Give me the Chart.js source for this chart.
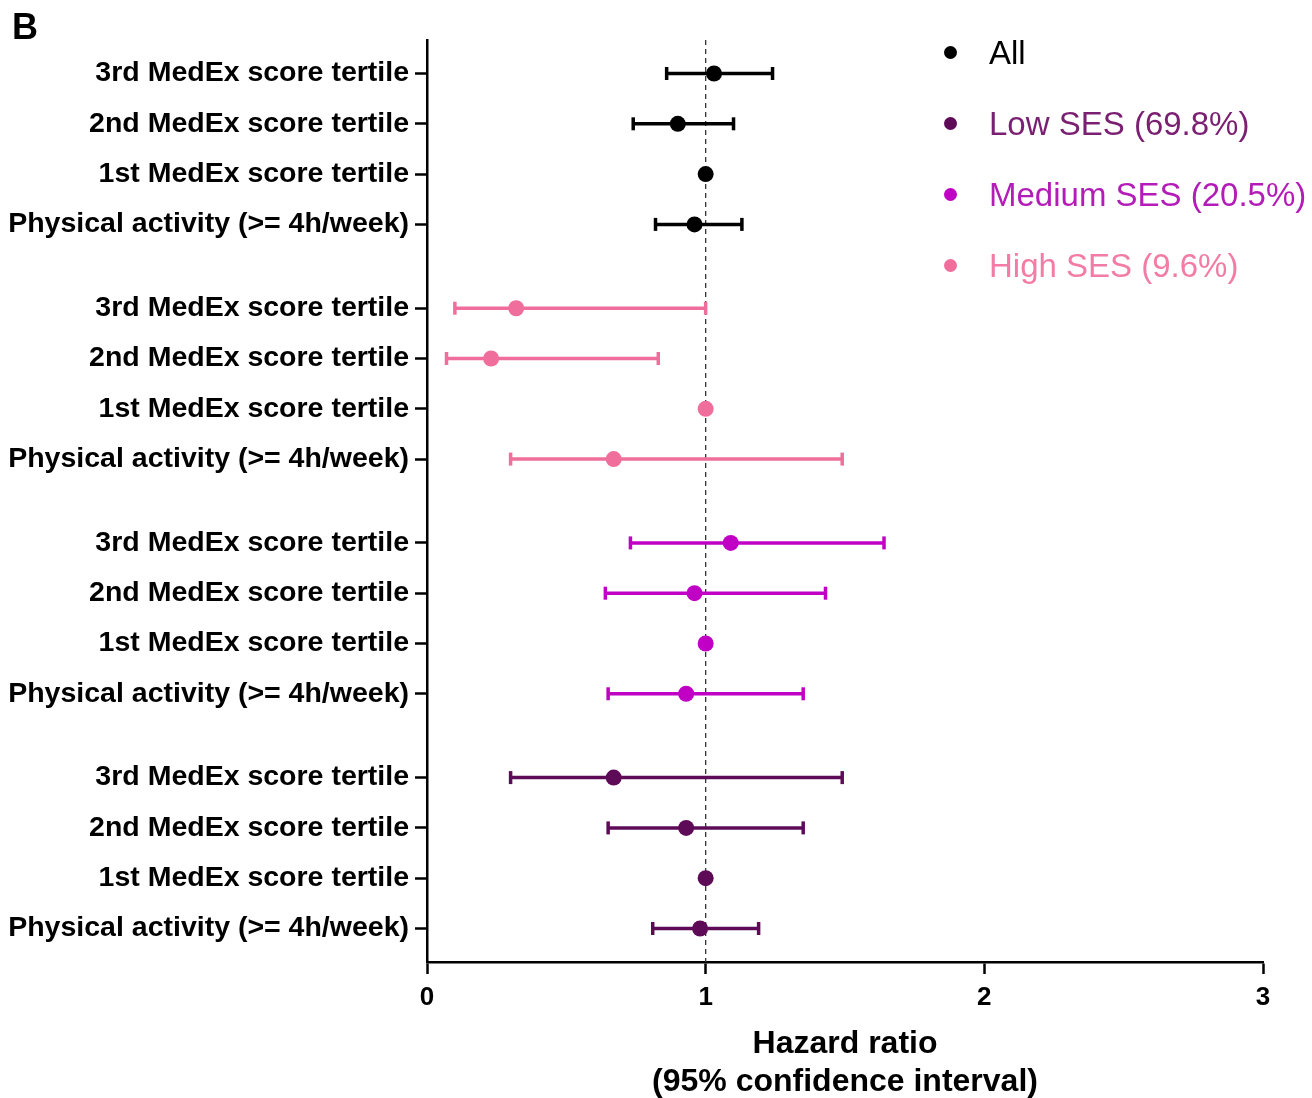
<!DOCTYPE html>
<html lang="en">

<head>
    <meta charset="UTF-8">
    <title>Hazard ratio by SES</title>
    <script src="https://cdn.jsdelivr.net/npm/chart.js"></script>
    <style>
        body { margin: 0; background: #fff; }
        #wrap { position: relative; width: 1312px; height: 1098px; }
        #panel { position: absolute; left: 12px; top: 6px; font: bold 36px "Liberation Sans", Arial, sans-serif; }
        #legend { position: absolute; left: 944px; top: 17px; font: 33px "Liberation Sans", Arial, sans-serif; }
        .item { display: flex; align-items: center; height: 71px; }
        .dot { width: 13px; height: 13px; border-radius: 50%; margin-right: 32px; }
    </style>
</head>

<body>
    <div id="wrap">
        <canvas id="forest" width="1312" height="1098"></canvas>
        <div id="panel">B</div>
        <div id="legend"></div>
    </div>

    <script>
        // rows inside each group, top to bottom
        const rowLabels = ['3rd MedEx score tertile', '2nd MedEx score tertile', '1st MedEx score tertile', 'Physical activity (>= 4h/week)'];

        // groups, top to bottom on the plot
        const groupNames = ['All', 'High SES (9.6%)', 'Medium SES (20.5%)', 'Low SES (69.8%)'];
        const groupColors = ['#000000', '#f06e9b', '#c000c4', '#5e0b57'];
        const groupTextColors = ['#000000', '#f27ca5', '#b41cb8', '#7a1f72'];

        // hazard ratios and 95% CI per group (1st tertile = reference)
        const hrAll = [1.03, 0.90, 1.00, 0.96];
        const loAll = [0.86, 0.74, null, 0.82];
        const hiAll = [1.24, 1.10, null, 1.13];

        const hrHigh = [0.32, 0.23, 1.00, 0.67];
        const loHigh = [0.10, 0.07, null, 0.30];
        const hiHigh = [1.00, 0.83, null, 1.49];

        const hrMed = [1.09, 0.96, 1.00, 0.93];
        const loMed = [0.73, 0.64, null, 0.65];
        const hiMed = [1.64, 1.43, null, 1.35];

        const hrLow = [0.67, 0.93, 1.00, 0.98];
        const loLow = [0.30, 0.65, null, 0.81];
        const hiLow = [1.49, 1.35, null, 1.19];

        const xTicks = [0, 1, 2, 3];

        // legend order differs from plot order
        const legendOrder = [0, 3, 2, 1];

        const hrs = [hrAll, hrHigh, hrMed, hrLow];
        const los = [loAll, loHigh, loMed, loLow];
        const his = [hiAll, hiHigh, hiMed, hiLow];

        const groupStep = 14 / 3; // 4 rows + gap
        const yMin = -2 / 3;
        const yMax = 3 * groupStep + 3 + 2 / 3;
        const rowPos = (g, r) => g * groupStep + r;

        const tickPositions = [];
        groupNames.forEach((_, g) => rowLabels.forEach((_, r) => tickPositions.push(rowPos(g, r))));

        const datasets = [];
        groupNames.forEach((name, g) => {
            const color = groupColors[g];
            datasets.push({
                label: name,
                data: hrs[g].map((v, r) => ({ x: v, y: rowPos(g, r) })),
                pointRadius: 8,
                pointBackgroundColor: color,
                pointBorderWidth: 0,
                showLine: false,
                order: 0,
                clip: false
            });
            hrs[g].forEach((v, r) => {
                if (los[g][r] == null) return;
                datasets.push({
                    label: name + ' CI',
                    data: [{ x: los[g][r], y: rowPos(g, r) }, { x: his[g][r], y: rowPos(g, r) }],
                    showLine: true,
                    borderColor: color,
                    borderWidth: 3.5,
                    pointStyle: 'line',
                    pointRadius: 6.5,
                    pointRotation: 90,
                    pointBorderColor: color,
                    pointBorderWidth: 3.5,
                    order: 1,
                    clip: false
                });
            });
        });

        // dashed reference line at HR = 1
        datasets.push({
            label: 'ref',
            data: [{ x: 1, y: yMin }, { x: 1, y: yMax }],
            showLine: true,
            borderColor: '#333',
            borderWidth: 1.3,
            borderDash: [5, 4],
            pointRadius: 0,
            order: 2
        });

        const ctx = document.getElementById('forest').getContext('2d');
        new Chart(ctx, {
            type: 'scatter',
            data: { datasets },
            options: {
                responsive: false,
                animation: false,
                layout: { padding: { top: 40, right: 49, left: 0, bottom: 0 } },
                plugins: { legend: { display: false }, tooltip: { enabled: false } },
                scales: {
                    x: {
                        type: 'linear',
                        min: xTicks[0],
                        max: xTicks[xTicks.length - 1],
                        afterBuildTicks: (scale) => { scale.ticks = xTicks.map(v => ({ value: v })); },
                        ticks: { color: '#000', font: { family: 'Liberation Sans', size: 26, weight: 'bold' }, padding: 8 },
                        grid: { drawOnChartArea: false, tickLength: 12, tickWidth: 2.5, tickColor: '#000' },
                        border: { width: 2.5, color: '#000' },
                        title: {
                            display: true,
                            text: ['Hazard ratio', '(95% confidence interval)'],
                            color: '#000',
                            font: { family: 'Liberation Sans', size: 32, weight: 'bold', lineHeight: 1.18 },
                            padding: { top: 10, bottom: -3 }
                        },
                        afterFit: (scale) => { scale.height = 136; }
                    },
                    y: {
                        type: 'linear',
                        reverse: true,
                        min: yMin,
                        max: yMax,
                        afterBuildTicks: (scale) => { scale.ticks = tickPositions.map(v => ({ value: v })); },
                        ticks: {
                            autoSkip: false,
                            color: '#000',
                            font: { family: 'Liberation Sans', size: 28.5, weight: 'bold' },
                            padding: 6,
                            callback: (value, index) => rowLabels[index % rowLabels.length]
                        },
                        grid: { drawOnChartArea: false, tickLength: 12, tickWidth: 2.5, tickColor: '#000' },
                        border: { width: 2.5, color: '#000' },
                        afterFit: (scale) => { scale.width = 427; }
                    }
                }
            }
        });

        // legend
        const legend = document.getElementById('legend');
        legendOrder.forEach(g => {
            const item = document.createElement('div');
            item.className = 'item';
            item.innerHTML = `<span class="dot" style="background:${groupColors[g]}"></span>` +
                `<span style="color:${groupTextColors[g]}">${groupNames[g]}</span>`;
            legend.appendChild(item);
        });
    </script>
</body>

</html>
